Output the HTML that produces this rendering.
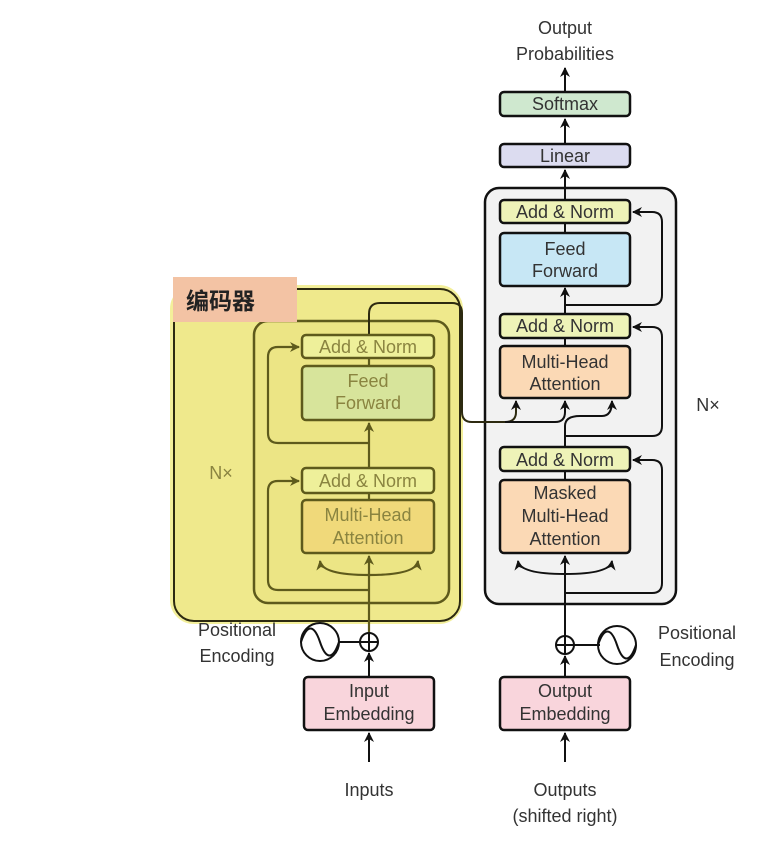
<!DOCTYPE html>
<html><head><meta charset="utf-8"><style>
html,body{margin:0;padding:0;background:#fff;}
svg{display:block;font-family:"Liberation Sans","Noto Sans CJK SC",sans-serif;}
</style></head><body>
<svg width="767" height="850" viewBox="0 0 767 850" xmlns="http://www.w3.org/2000/svg">
<defs>
<marker id="ak" markerWidth="10" markerHeight="10" refX="9" refY="5" orient="auto" markerUnits="userSpaceOnUse"><path d="M0,0 L10,5 L0,10 L3,5 z" fill="#111"/></marker>
<marker id="ay" markerWidth="10" markerHeight="10" refX="9" refY="5" orient="auto" markerUnits="userSpaceOnUse"><path d="M0,0 L10,5 L0,10 L3,5 z" fill="#5e5a1c"/></marker>
</defs>

<!-- Decoder -->
<rect x="485" y="188" width="191" height="416" rx="14" fill="#f2f2f2" stroke="#111" stroke-width="2.5"/>
<g stroke="#111" stroke-width="2" fill="none">
<line x1="565" y1="762" x2="565" y2="733" marker-end="url(#ak)"/>
<line x1="565" y1="677" x2="565" y2="656" marker-end="url(#ak)"/>
<line x1="565" y1="636" x2="565" y2="556" marker-end="url(#ak)"/>
<path d="M565 574 Q520 574 518 561" marker-end="url(#ak)"/>
<path d="M565 574 Q610 574 612 561" marker-end="url(#ak)"/>
<path d="M565 593 L652 593 Q662 593 662 583 L662 470 Q662 460 652 460 L633 460" marker-end="url(#ak)"/>
<line x1="565" y1="480" x2="565" y2="471"/>
<line x1="565" y1="447" x2="565" y2="426"/>
<path d="M565 426 Q565 416 580 416 L602 416 Q612 416 612 401" marker-end="url(#ak)"/>
<path d="M565 436 L652 436 Q662 436 662 426 L662 337 Q662 327 652 327 L633 327" marker-end="url(#ak)"/>
<line x1="565" y1="346" x2="565" y2="338"/>
<line x1="565" y1="314" x2="565" y2="288" marker-end="url(#ak)"/>
<path d="M565 305 L652 305 Q662 305 662 295 L662 222 Q662 212 652 212 L633 212" marker-end="url(#ak)"/>
<line x1="565" y1="233" x2="565" y2="223"/>
<line x1="565" y1="200" x2="565" y2="170" marker-end="url(#ak)"/>
<line x1="565" y1="144" x2="565" y2="119" marker-end="url(#ak)"/>
<line x1="565" y1="92" x2="565" y2="68" marker-end="url(#ak)"/>
<line x1="574" y1="645" x2="600" y2="645"/>
<circle cx="565" cy="645" r="9"/>
<line x1="556" y1="645" x2="574" y2="645"/><line x1="565" y1="636" x2="565" y2="654"/>
<circle cx="617" cy="645" r="19"/>
<path d="M598 645 C604 627 611 627 617 645 C623 663 630 663 636 645"/>
</g>
<g stroke="#111" stroke-width="2.5">
<rect x="500" y="92" width="130" height="24" rx="4" fill="#cfe8cf"/>
<rect x="500" y="144" width="130" height="23" rx="4" fill="#dcdcf0"/>
<rect x="500" y="200" width="130" height="23" rx="4" fill="#eef3b8"/>
<rect x="500" y="233" width="130" height="53" rx="4" fill="#c7e7f5"/>
<rect x="500" y="314" width="130" height="24" rx="4" fill="#eef3b8"/>
<rect x="500" y="346" width="130" height="52" rx="4" fill="#fbd9b5"/>
<rect x="500" y="447" width="130" height="24" rx="4" fill="#eef3b8"/>
<rect x="500" y="480" width="130" height="73" rx="4" fill="#fbd9b5"/>
<rect x="500" y="677" width="130" height="53" rx="4" fill="#f9d5dc"/>
<rect x="304" y="677" width="130" height="53" rx="4" fill="#f9d5dc"/>
</g>
<g fill="#333" font-size="18" text-anchor="middle">
<text x="565" y="34">Output</text><text x="565" y="60">Probabilities</text>
<text x="565" y="110">Softmax</text>
<text x="565" y="162">Linear</text>
<text x="565" y="218">Add &amp; Norm</text>
<text x="565" y="255">Feed</text><text x="565" y="277">Forward</text>
<text x="565" y="332">Add &amp; Norm</text>
<text x="565" y="368">Multi-Head</text><text x="565" y="390">Attention</text>
<text x="565" y="466">Add &amp; Norm</text>
<text x="565" y="499">Masked</text><text x="565" y="522">Multi-Head</text><text x="565" y="545">Attention</text>
<text x="565" y="697">Output</text><text x="565" y="720">Embedding</text>
<text x="369" y="697">Input</text><text x="369" y="720">Embedding</text>
<text x="369" y="796">Inputs</text>
<text x="565" y="796">Outputs</text><text x="565" y="822">(shifted right)</text>
<text x="708" y="411">N×</text>
<text x="697" y="639">Positional</text><text x="697" y="666">Encoding</text>
</g>

<!-- Encoder highlighted -->
<rect x="172" y="287" width="289" height="335" rx="22" fill="#efe98c" stroke="#f3ef9a" stroke-width="4"/>
<rect x="174" y="289" width="286" height="332" rx="20" fill="none" stroke="#2d2a10" stroke-width="2"/>
<rect x="254" y="321" width="195" height="282" rx="14" fill="#ece585" stroke="#5e5a1c" stroke-width="2.5"/>
<g stroke="#5e5a1c" stroke-width="2.2" fill="none">
<line x1="369" y1="633" x2="369" y2="556" marker-end="url(#ay)"/>
<path d="M369 575 Q322 575 320 561" marker-end="url(#ay)"/>
<path d="M369 575 Q416 575 418 561" marker-end="url(#ay)"/>
<path d="M369 590 L278 590 Q268 590 268 580 L268 491 Q268 481 278 481 L299 481" marker-end="url(#ay)"/>
<line x1="369" y1="500" x2="369" y2="493"/>
<line x1="369" y1="468" x2="369" y2="423" marker-end="url(#ay)"/>
<path d="M369 443 L278 443 Q268 443 268 433 L268 357 Q268 347 278 347 L299 347" marker-end="url(#ay)"/>
<line x1="369" y1="366" x2="369" y2="358"/>
</g>
<path d="M369 335 L369 314 Q369 303 380 303 L452 303 Q462 303 462 313 L462 412 Q462 422 472 422 L505 422 Q516 422 516 412 L516 401" stroke="#2d2a10" stroke-width="2" fill="none" marker-end="url(#ak)"/>
<path d="M540 422 L555 422 Q565 422 565 412 L565 401" stroke="#111" stroke-width="2" fill="none" marker-end="url(#ak)"/>
<line x1="505" y1="422" x2="545" y2="422" stroke="#111" stroke-width="2"/>
<g stroke="#5e5a1c" stroke-width="2.5">
<rect x="302" y="335" width="132" height="23" rx="4" fill="#eef09a"/>
<rect x="302" y="366" width="132" height="54" rx="4" fill="#d7e49b"/>
<rect x="302" y="468" width="132" height="25" rx="4" fill="#eef09a"/>
<rect x="302" y="500" width="132" height="53" rx="4" fill="#f0d97a"/>
</g>
<g fill="#8a8440" font-size="18" text-anchor="middle">
<text x="368" y="353">Add &amp; Norm</text>
<text x="368" y="387">Feed</text><text x="368" y="409">Forward</text>
<text x="368" y="487">Add &amp; Norm</text>
<text x="368" y="521">Multi-Head</text><text x="368" y="544">Attention</text>
<text x="221" y="479">N×</text>
</g>
<rect x="173" y="277" width="124" height="45" fill="#f3c3a4"/>
<text x="186" y="309" font-size="23" font-weight="bold" fill="#222">编码器</text>

<!-- encoder input stuff (drawn on top) -->
<g stroke="#111" stroke-width="2" fill="none">
<line x1="369" y1="762" x2="369" y2="733" marker-end="url(#ak)"/>
<line x1="369" y1="677" x2="369" y2="653" marker-end="url(#ak)"/>
<circle cx="369" cy="642" r="9"/>
<line x1="360" y1="642" x2="378" y2="642"/><line x1="369" y1="633" x2="369" y2="651"/>
<line x1="339" y1="642" x2="360" y2="642"/>
<circle cx="320" cy="642" r="19"/>
<path d="M301 642 C307 624 314 624 320 642 C326 660 333 660 339 642"/>
</g>
<g fill="#333" font-size="18" text-anchor="middle">
<text x="237" y="636">Positional</text><text x="237" y="662">Encoding</text>
</g>
</svg>
</body></html>
